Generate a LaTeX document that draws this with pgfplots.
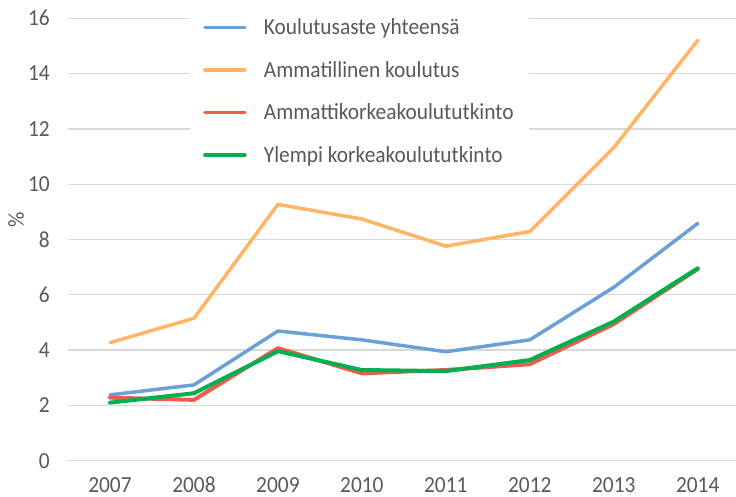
\documentclass[border=0pt]{standalone}
\usepackage{fontspec}
\setmainfont{Carlito}[FakeStretch=0.93]
\usepackage{pgfplots}
\pgfplotsset{compat=1.18}
\definecolor{cblue}{HTML}{6A9FD8}
\definecolor{corange}{HTML}{FFB466}
\definecolor{cred}{HTML}{EF5B4C}
\definecolor{cgreen}{HTML}{00AF50}
\definecolor{ctext}{HTML}{595959}
\definecolor{cgrid}{HTML}{D9D9D9}
\begin{document}
\begin{tikzpicture}[font=\fontsize{23bp}{27bp}\selectfont]
\path[use as bounding box] (0,0) rectangle (736bp,497bp);
\begin{axis}[
  at={(68bp,36.3bp)}, anchor=south west,
  scale only axis, width=668bp, height=442.4bp,
  xmin=2006.5, xmax=2014.456, ymin=0, ymax=16,
  xtick={2007,2008,2009,2010,2011,2012,2013,2014},
  xticklabels={2007,2008,2009,2010,2011,2012,2013,2014},
  ytick={0,2,4,6,8,10,12,14,16},
  /pgf/number format/assume math mode=true,
  axis line style={draw=none},
  major tick length=0pt,
  ymajorgrids, grid style={cgrid, line width=1.3bp},
  tick label style={text=ctext},
  yticklabel style={inner sep=0pt, anchor=east, xshift=-18bp},
  xticklabel style={inner sep=0pt, anchor=base, yshift=-32bp},
  ylabel={\%}, ylabel style={at={(axis description cs:-0.0778,0.544)}, anchor=center, text=ctext},
  legend cell align=left,
  legend style={at={(axis description cs:0.1826,1.04)}, anchor=north west, draw=none, fill=white,
    text=ctext, inner xsep=13bp, inner ysep=16bp, /tikz/row sep=21bp,
    /tikz/column sep=0pt, nodes={inner sep=2bp}},
  legend image code/.code={\draw[#1, line width=3.5bp, line cap=round] (0bp,0bp) -- (40bp,0bp); \path (55bp,0bp);},
  every axis plot/.append style={line width=3.5bp, line join=round, line cap=round},
]
\addplot[cblue] coordinates {(2007,2.38) (2008,2.74) (2009,4.69) (2010,4.37) (2011,3.94) (2012,4.37) (2013,6.27) (2014,8.58)};
\addlegendentry{Koulutusaste yhteensä}
\addplot[corange] coordinates {(2007,4.27) (2008,5.15) (2009,9.27) (2010,8.74) (2011,7.76) (2012,8.29) (2013,11.32) (2014,15.2)};
\addlegendentry{Ammatillinen koulutus}
\addplot[cred, line width=4bp] coordinates {(2007,2.28) (2008,2.20) (2009,4.07) (2010,3.16) (2011,3.28) (2012,3.49) (2013,4.94) (2014,6.93)};
\addlegendentry{Ammattikorkeakoulututkinto}
\addplot[cgreen, line width=4bp] coordinates {(2007,2.10) (2008,2.44) (2009,3.96) (2010,3.28) (2011,3.24) (2012,3.64) (2013,5.03) (2014,6.96)};
\addlegendentry{Ylempi korkeakoulututkinto}
\end{axis}
\end{tikzpicture}
\end{document}
